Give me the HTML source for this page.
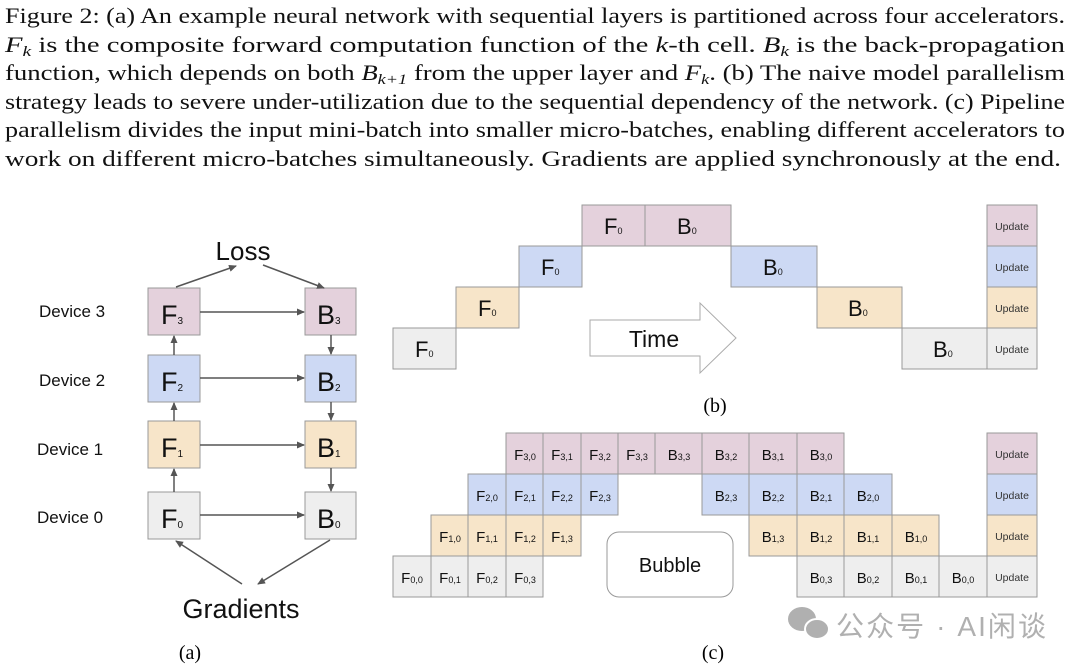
<!DOCTYPE html>
<html><head><meta charset="utf-8"><style>
html,body{margin:0;padding:0;background:#fff;width:1080px;height:668px;overflow:hidden}
svg{position:absolute;left:0;top:0}
</style></head><body>
<svg width="1080" height="668" viewBox="0 0 1080 668" font-family="Liberation Sans, sans-serif">
<g font-family="Liberation Serif, serif" font-size="22" fill="#111" lengthAdjust="spacingAndGlyphs">
<text x="5" y="23" textLength="1060" lengthAdjust="spacingAndGlyphs">Figure 2: (a) An example neural network with sequential layers is partitioned across four accelerators.</text>
<text x="5" y="52" textLength="1060" lengthAdjust="spacingAndGlyphs"><tspan font-style="italic">F</tspan><tspan font-style="italic" font-size="15" dy="4">k</tspan><tspan dy="-4"> is the composite forward computation function of the </tspan><tspan font-style="italic">k</tspan><tspan>-th cell. </tspan><tspan font-style="italic">B</tspan><tspan font-style="italic" font-size="15" dy="4">k</tspan><tspan dy="-4"> is the back-propagation</tspan></text>
<text x="5" y="80" textLength="1060" lengthAdjust="spacingAndGlyphs">function, which depends on both <tspan font-style="italic">B</tspan><tspan font-style="italic" font-size="15" dy="4">k+1</tspan><tspan dy="-4"> from the upper layer and </tspan><tspan font-style="italic">F</tspan><tspan font-style="italic" font-size="15" dy="4">k</tspan><tspan dy="-4">. (b) The naive model parallelism</tspan></text>
<text x="5" y="109" textLength="1060" lengthAdjust="spacingAndGlyphs">strategy leads to severe under-utilization due to the sequential dependency of the network. (c) Pipeline</text>
<text x="5" y="137" textLength="1060" lengthAdjust="spacingAndGlyphs">parallelism divides the input mini-batch into smaller micro-batches, enabling different accelerators to</text>
<text x="5" y="166" textLength="1056" lengthAdjust="spacingAndGlyphs">work on different micro-batches simultaneously. Gradients are applied synchronously at the end.</text>
</g>
<defs><marker id="ah" markerWidth="8" markerHeight="8" refX="7" refY="4" orient="auto" markerUnits="userSpaceOnUse"><path d="M0,0.5 L8,4 L0,7.5z" fill="#555"/></marker></defs>
<g stroke="#999" stroke-width="1">
<rect x="148" y="288" width="52" height="47" fill="#e4d1dc"/>
<rect x="305" y="288" width="51" height="47" fill="#e4d1dc"/>
<rect x="148" y="355" width="52" height="47" fill="#cdd9f4"/>
<rect x="305" y="355" width="51" height="47" fill="#cdd9f4"/>
<rect x="148" y="421" width="52" height="47" fill="#f7e5c9"/>
<rect x="305" y="421" width="51" height="47" fill="#f7e5c9"/>
<rect x="148" y="492" width="52" height="47" fill="#eeeeee"/>
<rect x="305" y="492" width="51" height="47" fill="#eeeeee"/>
</g>
<g stroke="#555" stroke-width="1.5" marker-end="url(#ah)">
<line x1="200" y1="312" x2="304" y2="312"/>
<line x1="200" y1="378" x2="304" y2="378"/>
<line x1="200" y1="445" x2="304" y2="445"/>
<line x1="200" y1="515" x2="304" y2="515"/>
<line x1="174" y1="492" x2="174" y2="469"/>
<line x1="174" y1="421" x2="174" y2="403"/>
<line x1="174" y1="355" x2="174" y2="336"/>
<line x1="331" y1="335" x2="331" y2="354"/>
<line x1="331" y1="402" x2="331" y2="420"/>
<line x1="331" y1="468" x2="331" y2="491"/>
<line x1="176" y1="287" x2="236" y2="266"/>
<line x1="263" y1="265" x2="324" y2="288"/>
<line x1="242" y1="584" x2="176" y2="541"/>
<line x1="330" y1="540" x2="258" y2="584"/>
</g>
<g font-size="27" fill="#111">
<text x="161" y="324">F<tspan font-size="10">3</tspan></text>
<text x="317" y="324">B<tspan font-size="10">3</tspan></text>
<text x="161" y="391">F<tspan font-size="10">2</tspan></text>
<text x="317" y="391">B<tspan font-size="10">2</tspan></text>
<text x="161" y="457">F<tspan font-size="10">1</tspan></text>
<text x="317" y="457">B<tspan font-size="10">1</tspan></text>
<text x="161" y="528">F<tspan font-size="10">0</tspan></text>
<text x="317" y="528">B<tspan font-size="10">0</tspan></text>
<text x="243" y="260" text-anchor="middle" font-size="26">Loss</text>
<text x="241" y="618" text-anchor="middle" font-size="27">Gradients</text>
</g>
<g font-size="17" fill="#111">
<text x="39" y="317">Device 3</text>
<text x="39" y="386">Device 2</text>
<text x="37" y="455">Device 1</text>
<text x="37" y="523">Device 0</text>
</g>
<g stroke="#999" stroke-width="1">
<rect x="393" y="328" width="63" height="41" fill="#eeeeee"/>
<rect x="456" y="287" width="63" height="41" fill="#f7e5c9"/>
<rect x="519" y="246" width="63" height="41" fill="#cdd9f4"/>
<rect x="582" y="205" width="63" height="41" fill="#e4d1dc"/>
<rect x="645" y="205" width="86" height="41" fill="#e4d1dc"/>
<rect x="731" y="246" width="86" height="41" fill="#cdd9f4"/>
<rect x="817" y="287" width="85" height="41" fill="#f7e5c9"/>
<rect x="902" y="328" width="85" height="41" fill="#eeeeee"/>
<rect x="987" y="205" width="50" height="41" fill="#e4d1dc"/>
<rect x="987" y="246" width="50" height="41" fill="#cdd9f4"/>
<rect x="987" y="287" width="50" height="41" fill="#f7e5c9"/>
<rect x="987" y="328" width="50" height="41" fill="#eeeeee"/>
<path d="M590,320 H700 V303 L736,338 L700,373 V356 H590 Z" fill="#fff" stroke="#aaa"/>
</g>
<g font-size="22" fill="#111">
<text x="415" y="357">F<tspan font-size="9">0</tspan></text>
<text x="478" y="316">F<tspan font-size="9">0</tspan></text>
<text x="541" y="275">F<tspan font-size="9">0</tspan></text>
<text x="604" y="234">F<tspan font-size="9">0</tspan></text>
<text x="677" y="234">B<tspan font-size="9">0</tspan></text>
<text x="763" y="275">B<tspan font-size="9">0</tspan></text>
<text x="848" y="316">B<tspan font-size="9">0</tspan></text>
<text x="933" y="357">B<tspan font-size="9">0</tspan></text>
<text x="654" y="347" text-anchor="middle" font-size="23">Time</text>
</g>
<g font-size="10.5" fill="#333" text-anchor="middle">
<text x="1012" y="230">Update</text><text x="1012" y="271">Update</text><text x="1012" y="312">Update</text><text x="1012" y="353">Update</text>
</g>
<text x="715" y="412" font-family="Liberation Serif, serif" font-size="20" text-anchor="middle">(b)</text>
<g stroke="#999" stroke-width="1">
<g fill="#eeeeee"><rect x="393" y="556" width="38" height="41"/><rect x="431" y="556" width="37" height="41"/><rect x="468" y="556" width="38" height="41"/><rect x="506" y="556" width="37" height="41"/>
<rect x="797" y="556" width="47" height="41"/><rect x="844" y="556" width="48" height="41"/><rect x="892" y="556" width="47" height="41"/><rect x="939" y="556" width="48" height="41"/><rect x="987" y="556" width="50" height="41"/></g>
<g fill="#f7e5c9"><rect x="431" y="515" width="37" height="41"/><rect x="468" y="515" width="38" height="41"/><rect x="506" y="515" width="37" height="41"/><rect x="543" y="515" width="38" height="41"/>
<rect x="749" y="515" width="48" height="41"/><rect x="797" y="515" width="47" height="41"/><rect x="844" y="515" width="48" height="41"/><rect x="892" y="515" width="47" height="41"/><rect x="987" y="515" width="50" height="41"/></g>
<g fill="#cdd9f4"><rect x="468" y="474" width="38" height="41"/><rect x="506" y="474" width="37" height="41"/><rect x="543" y="474" width="38" height="41"/><rect x="581" y="474" width="37" height="41"/>
<rect x="702" y="474" width="47" height="41"/><rect x="749" y="474" width="48" height="41"/><rect x="797" y="474" width="47" height="41"/><rect x="844" y="474" width="48" height="41"/><rect x="987" y="474" width="50" height="41"/></g>
<g fill="#e4d1dc"><rect x="506" y="433" width="37" height="41"/><rect x="543" y="433" width="38" height="41"/><rect x="581" y="433" width="37" height="41"/><rect x="618" y="433" width="37" height="41"/>
<rect x="655" y="433" width="47" height="41"/><rect x="702" y="433" width="47" height="41"/><rect x="749" y="433" width="48" height="41"/><rect x="797" y="433" width="47" height="41"/><rect x="987" y="433" width="50" height="41"/></g>
<rect x="607" y="532" width="126" height="65" rx="12" fill="#fff"/>
</g>
<g font-size="15" fill="#111" text-anchor="middle">
<text x="412" y="583">F<tspan font-size="9">0,0</tspan></text><text x="450" y="583">F<tspan font-size="9">0,1</tspan></text><text x="487" y="583">F<tspan font-size="9">0,2</tspan></text><text x="525" y="583">F<tspan font-size="9">0,3</tspan></text>
<text x="450" y="542">F<tspan font-size="9">1,0</tspan></text><text x="487" y="542">F<tspan font-size="9">1,1</tspan></text><text x="525" y="542">F<tspan font-size="9">1,2</tspan></text><text x="562" y="542">F<tspan font-size="9">1,3</tspan></text>
<text x="487" y="501">F<tspan font-size="9">2,0</tspan></text><text x="525" y="501">F<tspan font-size="9">2,1</tspan></text><text x="562" y="501">F<tspan font-size="9">2,2</tspan></text><text x="600" y="501">F<tspan font-size="9">2,3</tspan></text>
<text x="525" y="460">F<tspan font-size="9">3,0</tspan></text><text x="562" y="460">F<tspan font-size="9">3,1</tspan></text><text x="600" y="460">F<tspan font-size="9">3,2</tspan></text><text x="637" y="460">F<tspan font-size="9">3,3</tspan></text>
<text x="679" y="460">B<tspan font-size="9">3,3</tspan></text><text x="726" y="460">B<tspan font-size="9">3,2</tspan></text><text x="773" y="460">B<tspan font-size="9">3,1</tspan></text><text x="821" y="460">B<tspan font-size="9">3,0</tspan></text>
<text x="726" y="501">B<tspan font-size="9">2,3</tspan></text><text x="773" y="501">B<tspan font-size="9">2,2</tspan></text><text x="821" y="501">B<tspan font-size="9">2,1</tspan></text><text x="868" y="501">B<tspan font-size="9">2,0</tspan></text>
<text x="773" y="542">B<tspan font-size="9">1,3</tspan></text><text x="821" y="542">B<tspan font-size="9">1,2</tspan></text><text x="868" y="542">B<tspan font-size="9">1,1</tspan></text><text x="916" y="542">B<tspan font-size="9">1,0</tspan></text>
<text x="821" y="583">B<tspan font-size="9">0,3</tspan></text><text x="868" y="583">B<tspan font-size="9">0,2</tspan></text><text x="916" y="583">B<tspan font-size="9">0,1</tspan></text><text x="963" y="583">B<tspan font-size="9">0,0</tspan></text>
<text x="670" y="572" font-size="20">Bubble</text>
</g>
<g font-size="10.5" fill="#333" text-anchor="middle">
<text x="1012" y="458">Update</text><text x="1012" y="499">Update</text><text x="1012" y="540">Update</text><text x="1012" y="581">Update</text>
</g>
<text x="713" y="659" font-family="Liberation Serif, serif" font-size="20" text-anchor="middle">(c)</text>
<text x="190" y="659" font-family="Liberation Serif, serif" font-size="20" text-anchor="middle">(a)</text>
<g fill="#b0b0b0">
<ellipse cx="802" cy="619" rx="14" ry="12"/>
<ellipse cx="817" cy="629" rx="12" ry="10" stroke="#fff" stroke-width="2"/>
</g>
<text x="836" y="636" font-family="Liberation Sans, Noto Sans CJK SC, sans-serif" font-size="28" fill="#b0b0b0" textLength="210">公众号 · AI闲谈</text>
</svg>
</body></html>
